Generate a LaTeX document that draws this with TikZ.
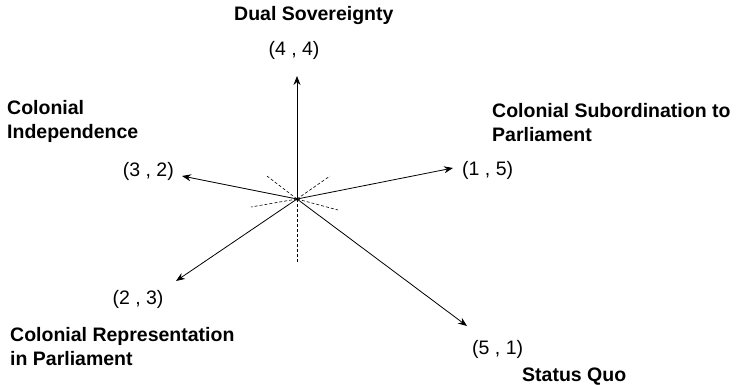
\documentclass[tikz,border=0pt]{standalone}
\usepackage{fontspec}
\setmainfont{Liberation Sans}
\usetikzlibrary{arrows.meta}
\tikzset{
  lbl/.style={font=\bfseries\fontsize{19.5}{23.5}\selectfont, inner sep=0pt, align=left},
  num/.style={font=\fontsize{19.5}{22}\selectfont, inner sep=0pt},
  arr/.style={-{Stealth[length=9pt,width=7pt,inset=3pt]}, line width=0.8pt},
  dsh/.style={dash pattern=on 3pt off 2pt, line width=0.6pt},
}
\begin{document}
\begin{tikzpicture}[x=1pt,y=-1pt]
\useasboundingbox (0,0) rectangle (742,384);
\node[circle, fill=black, inner sep=0pt, minimum size=3pt] (c) at (297,199) {};
% arrow tips
\coordinate (tu) at (297,76);
\coordinate (tl) at (182,176);
\coordinate (tr) at (453,168);
\coordinate (tll) at (176,281);
\coordinate (tsq) at (467,326);
% dashed rays
\coordinate (d1) at (267,176);
\coordinate (d2) at (330,176);
\coordinate (d3) at (251,207);
\coordinate (d4) at (338,210);
\coordinate (d5) at (297,262);
\foreach \d in {d1,d2,d3,d4,d5} \draw[dsh] (c.center) -- (\d);
% arrows
\foreach \t in {tu,tl,tr,tll,tsq} \draw[arr] (c.center) -- (\t);
% labels
\node[lbl, anchor=base west] (ds) at (234,20) {Dual Sovereignty};
\node[num, anchor=base] (p44) at (294,55) {(4 , 4)};
\node[lbl, anchor=base west] (ci) at (7,138) {Colonial\\Independence};
\node[num, anchor=base east] (p32) at (174,176) {(3 , 2)};
\node[lbl, anchor=base west] (cs) at (492,141) {Colonial Subordination to\\Parliament};
\node[num, anchor=base west] (p15) at (462,175) {(1 , 5)};
\node[num, anchor=base] (p23) at (138,304) {(2 , 3)};
\node[lbl, anchor=base west] (cr) at (10,365) {Colonial Representation\\in Parliament};
\node[num, anchor=base west] (p51) at (472,354) {(5 , 1)};
\node[lbl, anchor=base west] (sq) at (522,381) {Status Quo};
\end{tikzpicture}
\end{document}
